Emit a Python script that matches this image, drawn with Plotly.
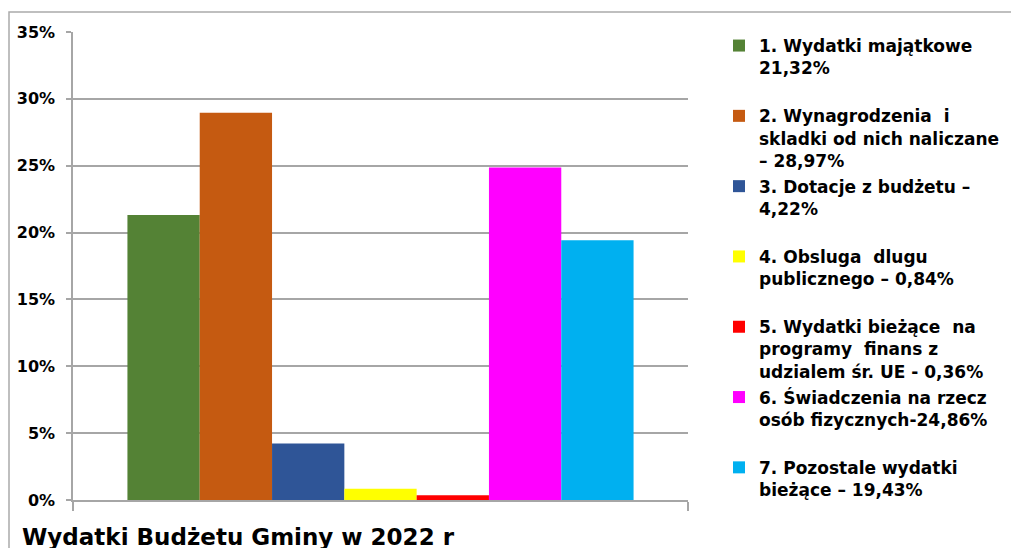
import plotly.graph_objects as go

labels = [
    "1. Wydatki majątkowe<br>21,32%<br> ",
    "2. Wynagrodzenia  i<br>skladki od nich naliczane<br>– 28,97%",
    "3. Dotacje z budżetu –<br>4,22%<br> ",
    "4. Obsluga  dlugu<br>publicznego – 0,84%<br> ",
    "5. Wydatki bieżące  na<br>programy  finans z<br>udzialem śr. UE - 0,36%",
    "6. Świadczenia na rzecz<br>osób fizycznych-24,86%<br> ",
    "7. Pozostale wydatki<br>bieżące – 19,43%",
]
values = [21.32, 28.97, 4.22, 0.84, 0.36, 24.86, 19.43]
colors = ["#548235", "#C55A11", "#2F5597", "#FFFF00", "#FF0000", "#FF00FF", "#00B0F0"]
category = [""]
y_ticks = [0, 5, 10, 15, 20, 25, 30, 35]
title_text = "Wydatki Budżetu Gminy w 2022 r"

FONT = "DejaVu Sans, Liberation Sans, Arial, sans-serif"

fig = go.Figure()
for i, (lab, val, col) in enumerate(zip(labels, values, colors)):
    fig.add_trace(go.Bar(x=category, y=[val], name=lab, legendgroup=f"g{i}",
                         marker=dict(color=col, line=dict(width=0))))

# page body has an 8px margin; work in screen pixels and convert
OFF = 8
W, H = 1019 - OFF, 548 - OFF
plot_left, plot_right, plot_top, plot_bottom = 73, 688, 32, 500  # screen px
ml = plot_left - OFF
mr = (W + OFF) - plot_right
mt = plot_top - OFF
mb = (H + OFF) - plot_bottom
pw = plot_right - plot_left
ph = plot_bottom - plot_top

def px_x(x):
    return (x - plot_left) / pw

def px_y(y):
    return (plot_bottom - y) / ph

fig.update_layout(
    width=W, height=H,
    margin=dict(l=ml, r=mr, t=mt, b=mb, autoexpand=False),
    paper_bgcolor="white", plot_bgcolor="white",
    barmode="group", bargap=0.177, bargroupgap=0,
    font=dict(family=FONT, color="black"),
    showlegend=True,
    legend=dict(
        x=px_x(719), y=px_y(28), xanchor="left", yanchor="top",
        font=dict(family=FONT, size=17, color="black", weight="bold"),
        valign="top", tracegroupgap=1, itemclick=False,
        bgcolor="rgba(0,0,0,0)", maxheight=1,
    ),
    xaxis=dict(
        showline=True, linecolor="#A6A6A6", linewidth=1.5,
        ticks="outside", tickson="boundaries", ticklen=9, tickcolor="#A6A6A6", tickwidth=1.5,
        showticklabels=False, showgrid=False, zeroline=False,
    ),
    yaxis=dict(
        range=[0, 35], tickvals=y_ticks, ticktext=[f"{v}%" for v in y_ticks],
        showline=True, linecolor="#A6A6A6", linewidth=1.5,
        ticks="outside", ticklen=5, tickcolor="#A6A6A6", tickwidth=1.5,
        showgrid=True, gridcolor="#A6A6A6", gridwidth=1.5, zeroline=False,
        tickfont=dict(family=FONT, size=16, color="black", weight="bold"),
        ticklabelstandoff=8,
    ),
    shapes=[dict(
        type="rect", xref="paper", yref="paper",
        x0=px_x(9), x1=px_x(1060), y0=px_y(600), y1=px_y(12),
        line=dict(color="#ABABAB", width=1.5), fillcolor="rgba(0,0,0,0)", layer="below",
    )],
    annotations=[dict(
        text=title_text, xref="paper", yref="paper",
        x=px_x(20), y=px_y(522), xanchor="left", yanchor="top",
        showarrow=False,
        font=dict(family=FONT, size=23, color="black", weight="bold"),
    )],
)

fig.write_html("out.html")
